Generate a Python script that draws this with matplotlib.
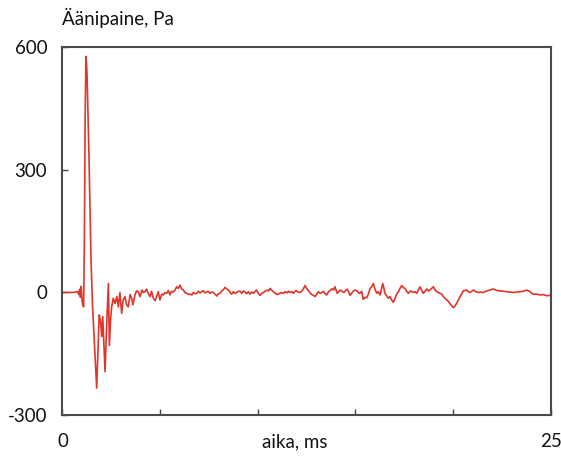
import matplotlib
matplotlib.use("Agg")
import matplotlib.pyplot as plt

plt.rcParams['font.family'] = ['Lato', 'DejaVu Sans']

# time (ms) and sound pressure (Pa)
time_ms = [0.0, 0.5, 0.78, 0.83, 0.88, 0.92, 0.96, 1.00, 1.04, 1.08, 1.12,
           1.16, 1.20, 1.23, 1.26, 1.36, 1.46, 1.54, 1.75, 1.88, 1.95, 2.01,
           2.06, 2.12, 2.18, 2.26, 2.35, 2.40, 2.47, 2.52, 2.60, 2.69, 2.78,
           2.86, 2.94, 3.03, 3.11, 3.20, 3.28, 3.37, 3.46, 3.54, 3.61, 3.71,
           3.80, 3.88, 3.97, 4.07, 4.14, 4.22, 4.30, 4.39, 4.48, 4.56, 4.65,
           4.74, 4.82, 4.90, 4.99, 5.08, 5.16, 5.25, 5.34, 5.42, 5.50, 5.58,
           5.67, 5.76, 5.85, 5.93, 6.02, 6.10, 6.19, 6.27, 6.36, 6.45, 6.53,
           6.62, 6.70, 6.79, 6.87, 6.96, 7.04, 7.13, 7.21, 7.30, 7.38, 7.46,
           7.55, 7.63, 7.72, 7.81, 7.90, 7.98, 8.07, 8.16, 8.24, 8.32, 8.40,
           8.49, 8.58, 8.66, 8.75, 8.83, 8.92, 9.00, 9.09, 9.18, 9.26, 9.35,
           9.43, 9.52, 9.60, 9.69, 9.77, 9.86, 9.94, 10.03, 10.11, 10.20,
           10.28, 10.37, 10.49, 10.56, 10.63, 10.72, 10.80, 10.90, 11.00,
           11.10, 11.20, 11.31, 11.40, 11.50, 11.57, 11.65, 11.74, 11.82,
           11.90, 11.99, 12.08, 12.20, 12.30, 12.42, 12.50, 12.59, 12.68,
           12.76, 12.85, 12.93, 13.02, 13.10, 13.19, 13.28, 13.36, 13.45,
           13.53, 13.62, 13.70, 13.80, 13.88, 13.95, 14.07, 14.16, 14.25,
           14.33, 14.41, 14.50, 14.58, 14.65, 14.72, 14.80, 14.89, 14.97,
           15.06, 15.14, 15.23, 15.32, 15.40, 15.49, 15.58, 15.66, 15.75,
           15.83, 15.92, 16.00, 16.09, 16.17, 16.26, 16.33, 16.40, 16.46,
           16.51, 16.60, 16.68, 16.77, 16.85, 16.94, 17.03, 17.11, 17.20,
           17.28, 17.37, 17.45, 17.54, 17.62, 17.71, 17.83, 17.96, 18.05,
           18.14, 18.22, 18.31, 18.40, 18.48, 18.56, 18.65, 18.73, 18.82,
           18.90, 18.99, 19.08, 19.16, 19.25, 19.33, 19.42, 19.50, 19.63,
           19.76, 19.88, 20.01, 20.10, 20.19, 20.27, 20.36, 20.44, 20.52,
           20.61, 20.70, 20.78, 20.87, 20.95, 21.04, 21.16, 21.29, 21.42,
           21.55, 21.68, 21.81, 21.94, 22.06, 22.23, 22.40, 22.58, 22.75,
           22.92, 23.09, 23.26, 23.43, 23.60, 23.77, 23.86, 23.94, 24.03,
           24.11, 24.28, 24.45, 24.62, 24.79, 24.92, 25.0]
pressure_pa = [0, 0, 2, -5, 8, -12, 15, -20, -30, -35, 120,
               430, 578, 560, 530, 325, 80, -35, -234, -55, -70, -108,
               -59, -124, -194, -80, 22, -130, -60, -35, -14, -27, -10,
               -35, 0, -51, -18, -10, -30, -35, -5, -14, -30, -6,
               4, 2, -10, 6, 0, 2, 8, -2, -10, 3, -14,
               -20, -10, 2, -18, -4, -6, 0, -2, 5, -6, 3,
               1, 6, 14, 10, 18, 9, 6, 0, -2, -5, -4,
               -6, 0, -3, -2, 3, -1, 2, 4.5, -1, 1, 3,
               -2, 1, 0, -4, -8.5, -3, -2, 4, 7, 12.6, 9,
               6, 1, -4, 2, -2, 0, 3, 3, -2, 4, 1,
               -3, 2, -4, 1, -2, 3, 6, -2, -7, -3,
               0, 3, 6, 4, 10, 5, 2, -2, -5,
               -3, 0, -2, 2, -1, 3, 0, 2, -2,
               3, 4.5, 0, 1, 6, 17, 10, 4.5, -1,
               -5, -7, -10, -4, 2, -2, 0, 3, -3,
               -6, 2, 4.5, 9, 6, 14, -2, 3, 6,
               2, 0, 5, 8, 2, -7, -2, 3, 6,
               4.5, 0, -2, 3, -17, -12, -13, -4, 10,
               14, 22, 8, -2, 2, -6, 8, 22, 10,
               -2, -8, -14, -10, -18, -24, -14, -4, 2,
               10, 17, 12, 10, 3, -2, 4, 0, 2,
               -2, 6, 14, 4, -2, 3, 8.5, 4, 6,
               10, 14, 6, 2, 0, -2, -4, -10, -16,
               -22, -30, -37, -33, -26, -18, -10, -3, 4,
               5, 6, 2, 0, 3, 6, 2, 0, 1,
               0, 3, 5, 7, 8.5, 5, 4, 3, 2,
               1, 0, 1, 2, 3, 6, 4, 2, -2,
               -4.5, -4, -6, -5, -8, -7, -8]

x_ticks = [0, 5, 10, 15, 20, 25]
x_tick_labels = ['0', '', '', '', '', '25']
y_ticks = [-300, 0, 300, 600]
y_tick_labels = ['-300', '0', '300', '600']
x_label = 'aika, ms'
y_label = 'Äänipaine, Pa'

FS = 13.5

fig = plt.figure(figsize=(5.61, 4.57), dpi=100)
ax = fig.add_axes([0.1114, 0.0919, 0.8703, 0.8042])

ax.plot(time_ms, pressure_pa, color='#e0352b', lw=1.2)

ax.set_xlim(0, 25)
ax.set_ylim(-300, 600)
ax.set_xticks(x_ticks)
ax.set_xticklabels(x_tick_labels)
ax.set_yticks(y_ticks)
ax.set_yticklabels(y_tick_labels)
ax.tick_params(direction='in', length=4, width=1, color='#444444',
               labelsize=FS, labelcolor='#111111')
ax.tick_params(axis='x', pad=13)
ax.tick_params(axis='y', pad=11)

for side in ['left', 'bottom', 'top', 'right']:
    ax.spines[side].set_color('#4a4a4a')
    ax.spines[side].set_linewidth(1.5)

ax.annotate(x_label, xy=(11.9, 0), xycoords=('data', 'axes fraction'),
            xytext=(0, -19), textcoords='offset points', ha='center',
            va='center', fontsize=FS, color='#111111')

fig.text(0.1114, 0.96, y_label, ha='left', va='center', fontsize=FS,
         color='#111111')

fig.savefig('out.png', dpi=100, facecolor='white')
